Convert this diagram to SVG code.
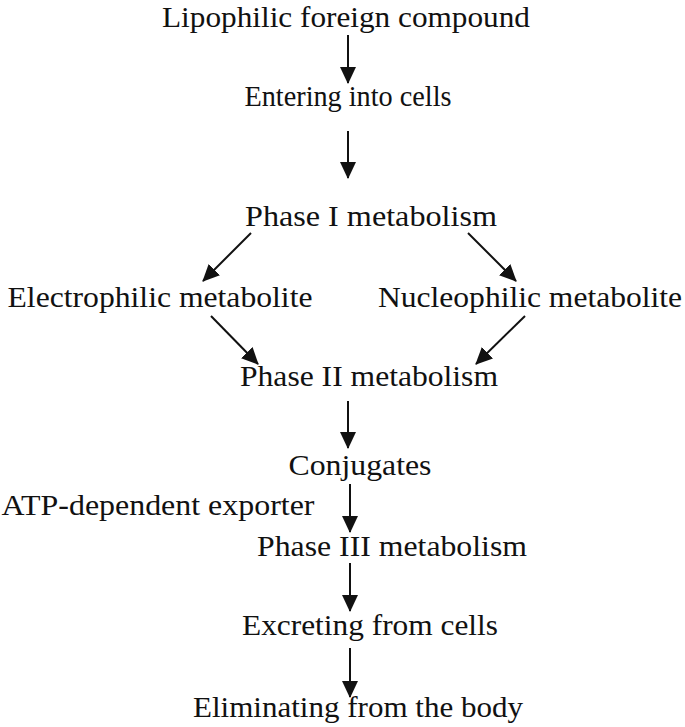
<svg xmlns="http://www.w3.org/2000/svg" width="685" height="727" viewBox="0 0 685 727">
<defs>
<marker id="ah" markerWidth="17" markerHeight="16" refX="16" refY="8" orient="auto" markerUnits="userSpaceOnUse">
<path d="M0,0 L17,8 L0,16 Z" fill="#111"/>
</marker>
<style>
text{font-family:"Liberation Serif","Tinos","Nimbus Roman","Times New Roman","FreeSerif","DejaVu Serif",serif;font-size:30px;fill:#111;text-anchor:middle}
.c line{stroke:#111;stroke-width:2;marker-end:url(#ah)}
</style>
</defs>
<rect width="685" height="727" fill="#fff"/>
<g id="n1"><text x="346" y="27" textLength="368" lengthAdjust="spacingAndGlyphs">Lipophilic foreign compound</text></g>
<g id="n2"><text x="348" y="106" textLength="207" lengthAdjust="spacingAndGlyphs">Entering into cells</text></g>
<g id="n3"><text x="371" y="226" textLength="252" lengthAdjust="spacingAndGlyphs">Phase I metabolism</text></g>
<g id="n4"><text x="160" y="307" textLength="305" lengthAdjust="spacingAndGlyphs">Electrophilic metabolite</text></g>
<g id="n5"><text x="530" y="307" textLength="304" lengthAdjust="spacingAndGlyphs">Nucleophilic metabolite</text></g>
<g id="n6"><text x="369" y="386" textLength="258" lengthAdjust="spacingAndGlyphs">Phase II metabolism</text></g>
<g id="n7"><text x="360" y="475" textLength="143" lengthAdjust="spacingAndGlyphs">Conjugates</text></g>
<g id="n8"><text x="158" y="515" textLength="313" lengthAdjust="spacingAndGlyphs">ATP-dependent exporter</text></g>
<g id="n9"><text x="392" y="556" textLength="270" lengthAdjust="spacingAndGlyphs">Phase III metabolism</text></g>
<g id="n10"><text x="370" y="635" textLength="256" lengthAdjust="spacingAndGlyphs">Excreting from cells</text></g>
<g id="n11"><text x="358" y="717" textLength="330" lengthAdjust="spacingAndGlyphs">Eliminating from the body</text></g>
<g class="c" id="connectors">
<line x1="348" y1="35" x2="348" y2="83"/>
<line x1="348" y1="131" x2="348" y2="178"/>
<line x1="251" y1="233" x2="203" y2="281"/>
<line x1="468" y1="233" x2="516" y2="281"/>
<line x1="211" y1="316" x2="258" y2="364"/>
<line x1="525" y1="316" x2="476" y2="364"/>
<line x1="348" y1="401" x2="348" y2="448"/>
<line x1="350" y1="484" x2="350" y2="532"/>
<line x1="350" y1="563" x2="350" y2="611"/>
<line x1="350" y1="648" x2="350" y2="697"/>
</g>
</svg>
